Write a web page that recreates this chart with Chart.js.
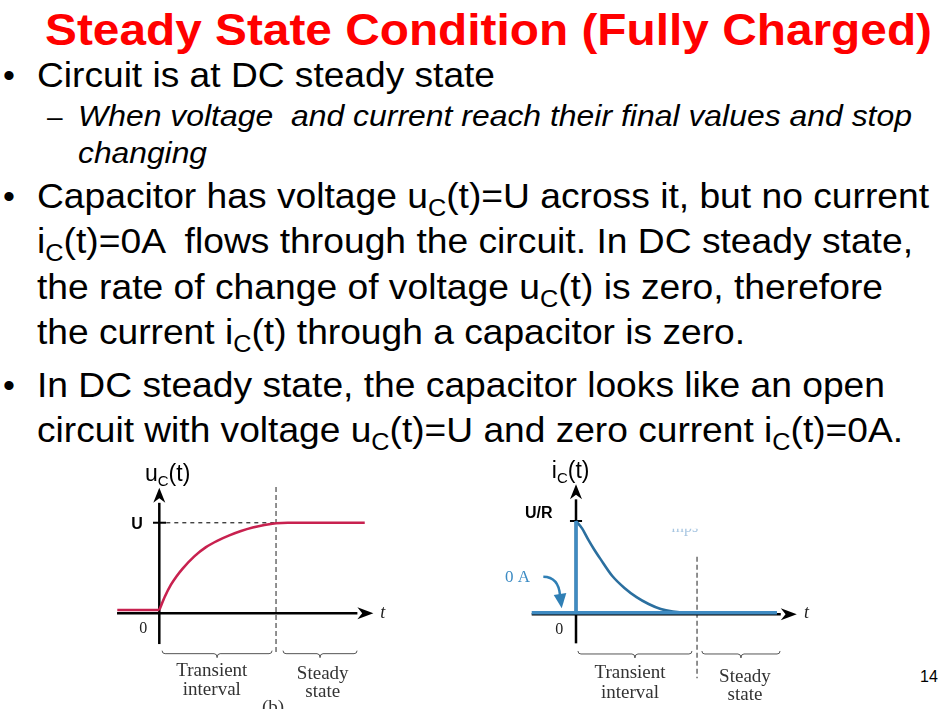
<!DOCTYPE html>
<html>
<head>
<meta charset="utf-8">
<script src="https://cdn.jsdelivr.net/npm/chart.js@4.4.1/dist/chart.umd.min.js"></script>
<style>
  html, body { margin: 0; padding: 0; background: #fff; }
  body { width: 951px; height: 709px; position: relative; overflow: hidden; font-family: "Liberation Sans", Arial, sans-serif; }
  .ln { position: absolute; white-space: pre; transform-origin: 0 0; color: #000; }
  .title { color: #ff0000; font-weight: bold; }
  .it { font-style: italic; }
  .sb { font-size: 0.68em; vertical-align: -0.34em; }
  canvas { position: absolute; }
</style>
</head>
<body>

<!-- slide text: data-l / data-r = left and right edge, data-b = baseline, data-fs = font size -->
<div class="ln title" data-l="45" data-r="932" data-b="45" data-fs="44">Steady State Condition (Fully Charged)</div>

<div class="ln" data-l="3" data-b="87" data-fs="34">•</div>
<div class="ln" data-l="37" data-r="495" data-b="87" data-fs="35">Circuit is at DC steady state</div>
<div class="ln" data-l="47" data-b="127" data-fs="28">–</div>
<div class="ln it" data-l="78" data-r="912" data-b="127" data-fs="29">When voltage  and current reach their final values and stop</div>
<div class="ln it" data-l="78" data-r="207" data-b="164" data-fs="29">changing</div>

<div class="ln" data-l="3" data-b="208" data-fs="34">•</div>
<div class="ln" data-l="37" data-r="929" data-b="208" data-fs="35">Capacitor has voltage u<span class="sb">C</span>(t)=U across it, but no current</div>
<div class="ln" data-l="37" data-r="913" data-b="253" data-fs="35">i<span class="sb">C</span>(t)=0A  flows through the circuit. In DC steady state,</div>
<div class="ln" data-l="37" data-r="883" data-b="299" data-fs="35">the rate of change of voltage u<span class="sb">C</span>(t) is zero, therefore</div>
<div class="ln" data-l="37" data-r="745" data-b="344" data-fs="35">the current i<span class="sb">C</span>(t) through a capacitor is zero.</div>

<div class="ln" data-l="3" data-b="397" data-fs="34">•</div>
<div class="ln" data-l="37" data-r="885" data-b="397" data-fs="35">In DC steady state, the capacitor looks like an open</div>
<div class="ln" data-l="37" data-r="903" data-b="442" data-fs="35">circuit with voltage u<span class="sb">C</span>(t)=U and zero current i<span class="sb">C</span>(t)=0A.</div>

<div class="ln" data-l="920" data-b="683" data-fs="16">14</div>

<canvas id="chargeChart" width="300" height="254" style="left:100px; top:455px; width:300px; height:254px;"></canvas>
<canvas id="currentChart" width="320" height="254" style="left:500px; top:455px; width:320px; height:254px;"></canvas>

<script>
// --- DATA (t in time units, values as fraction of U or U/R) ---
const uPreTime = [-1.8, 0];
const uPreVolt = [0, 0];
const uTime = [0, 0.25, 0.5, 0.75, 1, 1.5, 2, 2.5, 3, 3.5, 4, 4.5, 5, 5.5, 6, 7, 8, 8.8];
const uVolt = [0, 0.16, 0.29, 0.39, 0.475, 0.615, 0.72, 0.795, 0.855, 0.905, 0.945, 0.975, 0.995, 1, 1, 1, 1, 1];

const iBaseTime = [-1.83, 8.3];
const iBaseCurr = [0, 0];
const iJumpTime = [0, 0];
const iJumpCurr = [0, 1];
const iTime = [0, 0.25, 0.5, 0.75, 1, 1.5, 2, 2.5, 3, 3.5, 4, 4.5, 5, 6, 7, 8.3];
const iCurr = [1, 0.92, 0.8, 0.69, 0.59, 0.4, 0.27, 0.17, 0.095, 0.04, 0.012, 0, 0, 0, 0, 0];

const uTickLabels = ["0", "U"];
const iTickLabels = ["0", "U/R"];
const intervalLabels = [["Transient", "interval"], ["Steady", "state"]];

// --- SLIDE TEXT FITTING ---
document.querySelectorAll(".ln").forEach(el => {
  const fs = +el.dataset.fs;
  el.style.fontSize = fs + "px";
  el.style.lineHeight = fs + "px";
  el.style.left = el.dataset.l + "px";
  el.style.top = (+el.dataset.b - 0.8465 * fs) + "px";
  if (el.dataset.r) {
    const w = el.getBoundingClientRect().width;
    el.style.transform = "scaleX(" + ((+el.dataset.r - +el.dataset.l) / w) + ")";
  }
});

// --- DRAW HELPERS ---
const toXY = (xs, ys) => xs.map((x, i) => ({ x: x, y: ys[i] }));

function arrowLine(ctx, x1, y1, x2, y2, len, half, width) {
  const a = Math.atan2(y2 - y1, x2 - x1);
  const bx = x2 - len * Math.cos(a), by = y2 - len * Math.sin(a);
  ctx.strokeStyle = "#000"; ctx.fillStyle = "#000"; ctx.lineWidth = width;
  ctx.beginPath(); ctx.moveTo(x1, y1); ctx.lineTo(bx, by); ctx.stroke();
  ctx.beginPath();
  ctx.moveTo(x2, y2);
  ctx.lineTo(bx + half * Math.sin(a), by - half * Math.cos(a));
  ctx.lineTo(bx + 0.3 * len * Math.cos(a), by + 0.3 * len * Math.sin(a));
  ctx.lineTo(bx - half * Math.sin(a), by + half * Math.cos(a));
  ctx.closePath(); ctx.fill();
}

function dashed(ctx, x1, y1, x2, y2, dash, color) {
  ctx.save();
  ctx.strokeStyle = color; ctx.lineWidth = 1.3; ctx.setLineDash(dash);
  ctx.beginPath(); ctx.moveTo(x1, y1); ctx.lineTo(x2, y2); ctx.stroke();
  ctx.restore();
}

function brace(ctx, x1, x2, y) {
  const m = (x1 + x2) / 2;
  ctx.save();
  ctx.strokeStyle = "#555"; ctx.lineWidth = 1;
  ctx.beginPath();
  ctx.moveTo(x1, y - 3);
  ctx.quadraticCurveTo(x1, y, x1 + 3, y);
  ctx.lineTo(m - 3, y);
  ctx.quadraticCurveTo(m, y, m, y + 4);
  ctx.quadraticCurveTo(m, y, m + 3, y);
  ctx.lineTo(x2 - 3, y);
  ctx.quadraticCurveTo(x2, y, x2, y - 3);
  ctx.stroke();
  ctx.restore();
}

function text(ctx, str, x, y, font, color, align) {
  ctx.font = font; ctx.fillStyle = color; ctx.textAlign = align || "left"; ctx.textBaseline = "alphabetic";
  ctx.fillText(str, x, y);
}

// function label like uC(t) with subscript
function subLabel(ctx, main, sub, rest, x, y) {
  ctx.textAlign = "left"; ctx.fillStyle = "#000";
  ctx.font = '23px "Liberation Sans"';
  ctx.fillText(main, x, y);
  x += ctx.measureText(main).width;
  ctx.font = '15px "Liberation Sans"';
  ctx.fillText(sub, x, y + 5);
  x += ctx.measureText(sub).width;
  ctx.font = '23px "Liberation Sans"';
  ctx.fillText(rest, x, y);
}

const serif = '"Liberation Serif", "Times New Roman", serif';

// --- CHART 1: capacitor voltage ---
const chargeAnnotations = {
  id: "chargeAnnotations",
  beforeDatasetsDraw(chart) {
    const { ctx, scales: { x, y } } = chart;
    const X = v => x.getPixelForValue(v), Y = v => y.getPixelForValue(v);
    ctx.save();
    // dashed guides
    dashed(ctx, X(0.3), Y(1), X(5), Y(1), [4, 4], "#333");
    dashed(ctx, X(5), Y(-0.48), X(5), Y(1.41), [5, 3], "#555");
    // axes
    arrowLine(ctx, X(-1.81), Y(-0.038), X(9.17), Y(-0.038), 16, 6, 2.5);
    arrowLine(ctx, X(0), Y(-0.39), X(0), Y(1.4), 15, 6, 2.5);
    ctx.strokeStyle = "#000"; ctx.lineWidth = 2;
    ctx.beginPath(); ctx.moveTo(X(-0.27), Y(1)); ctx.lineTo(X(0.29), Y(1)); ctx.stroke();
    // tick labels
    text(ctx, uTickLabels[1], X(-0.955), Y(0.928), 'bold 16px "Liberation Sans"', "#000", "center");
    text(ctx, uTickLabels[0], X(-0.686), Y(-0.263), "16px " + serif, "#222", "center");
    text(ctx, "t", X(9.46), Y(-0.095), "italic 18px " + serif, "#222");
    subLabel(ctx, "u", "C", "(t)", X(-0.613), Y(1.478));
    // interval braces and labels
    brace(ctx, X(0.12), X(4.83), Y(-0.5));
    brace(ctx, X(5.3), X(8.47), Y(-0.5));
    text(ctx, intervalLabels[0][0], X(2.25), Y(-0.76), "19px " + serif, "#333", "center");
    text(ctx, intervalLabels[0][1], X(2.25), Y(-0.977), "19px " + serif, "#333", "center");
    text(ctx, intervalLabels[1][0], X(7.0), Y(-0.79), "19px " + serif, "#333", "center");
    text(ctx, intervalLabels[1][1], X(7.0), Y(-0.993), "19px " + serif, "#333", "center");
    text(ctx, "(b)", X(4.87), Y(-1.18), "19px " + serif, "#333", "center");
    ctx.restore();
  }
};

new Chart(document.getElementById("chargeChart"), {
  type: "line",
  data: {
    datasets: [
      { data: toXY(uPreTime, uPreVolt), borderColor: "#c8214f", borderWidth: 2.6, tension: 0 },
      { data: toXY(uTime, uVolt), borderColor: "#c8214f", borderWidth: 2.6, cubicInterpolationMode: "monotone" }
    ]
  },
  options: {
    responsive: false,
    animation: false,
    events: [],
    layout: { padding: 0 },
    elements: { point: { radius: 0 } },
    plugins: { legend: { display: false }, tooltip: { enabled: false } },
    scales: {
      x: { type: "linear", display: false, min: -2.54, max: 10.31 },
      y: { type: "linear", display: false, min: -1.134, max: 1.776 }
    }
  },
  plugins: [chargeAnnotations]
});

// --- CHART 2: capacitor current ---
const currentAnnotations = {
  id: "currentAnnotations",
  beforeDatasetsDraw(chart) {
    const { ctx, scales: { x, y } } = chart;
    const X = v => x.getPixelForValue(v), Y = v => y.getPixelForValue(v);
    ctx.save();
    dashed(ctx, X(5), Y(0.61), X(5), Y(-0.715), [5, 3], "#555");
    arrowLine(ctx, X(-1.83), Y(-0.017), X(9.12), Y(-0.017), 16, 6, 2.5);
    arrowLine(ctx, X(0), Y(-0.334), X(0), Y(1.4), 15, 6, 2.5);
    ctx.strokeStyle = "#000"; ctx.lineWidth = 2;
    ctx.beginPath(); ctx.moveTo(X(-0.25), Y(1)); ctx.lineTo(X(0.25), Y(1)); ctx.stroke();
    text(ctx, iTickLabels[1], X(-2.11), Y(1.033), 'bold 16px "Liberation Sans"', "#000");
    text(ctx, iTickLabels[0], X(-0.69), Y(-0.232), "16px " + serif, "#222", "center");
    text(ctx, "t", X(9.42), Y(-0.058), "italic 18px " + serif, "#222");
    subLabel(ctx, "i", "C", "(t)", X(-1.0), Y(1.469));
    // faint leftover caption, top half cut away
    ctx.save();
    ctx.beginPath(); ctx.rect(X(3.5), Y(0.915), X(5.6) - X(3.5), 20); ctx.clip();
    text(ctx, "mps", X(4.5), Y(0.88), "16px " + serif, "rgba(110,160,205,0.6)", "center");
    ctx.restore();
    // "0 A" callout with curved arrow
    text(ctx, "0 A", X(-2.93), Y(0.33), "17px " + serif, "#3d8cc4");
    ctx.strokeStyle = "#2f7fb5"; ctx.fillStyle = "#2f7fb5"; ctx.lineWidth = 2.4;
    ctx.beginPath();
    ctx.moveTo(X(-1.35), Y(0.393));
    ctx.quadraticCurveTo(X(-0.72), Y(0.39), X(-0.66), Y(0.19));
    ctx.stroke();
    ctx.beginPath();
    ctx.moveTo(X(-0.59), Y(0.048));
    ctx.lineTo(X(-0.92), Y(0.193));
    ctx.lineTo(X(-0.4), Y(0.215));
    ctx.closePath(); ctx.fill();
    brace(ctx, X(0.08), X(4.79), Y(-0.45));
    brace(ctx, X(5.2), X(8.43), Y(-0.45));
    text(ctx, intervalLabels[0][0], X(2.23), Y(-0.715), "19px " + serif, "#333", "center");
    text(ctx, intervalLabels[0][1], X(2.23), Y(-0.925), "19px " + serif, "#333", "center");
    text(ctx, intervalLabels[1][0], X(6.98), Y(-0.752), "19px " + serif, "#333", "center");
    text(ctx, intervalLabels[1][1], X(6.98), Y(-0.952), "19px " + serif, "#333", "center");
    ctx.restore();
  }
};

new Chart(document.getElementById("currentChart"), {
  type: "line",
  data: {
    datasets: [
      { data: toXY(iBaseTime, iBaseCurr), borderColor: "#3f8bc2", borderWidth: 3.5, tension: 0 },
      { data: toXY(iJumpTime, iJumpCurr), borderColor: "#3f8bc2", borderWidth: 3.5, tension: 0 },
      { data: toXY(iTime, iCurr), borderColor: "#2b6f9f", borderWidth: 2.6, cubicInterpolationMode: "monotone" }
    ]
  },
  options: {
    responsive: false,
    animation: false,
    events: [],
    layout: { padding: 0 },
    elements: { point: { radius: 0 } },
    plugins: { legend: { display: false }, tooltip: { enabled: false } },
    scales: {
      x: { type: "linear", display: false, min: -3.14, max: 10.08 },
      y: { type: "linear", display: false, min: -1.05, max: 1.72 }
    }
  },
  plugins: [currentAnnotations]
});
</script>
</body>
</html>
